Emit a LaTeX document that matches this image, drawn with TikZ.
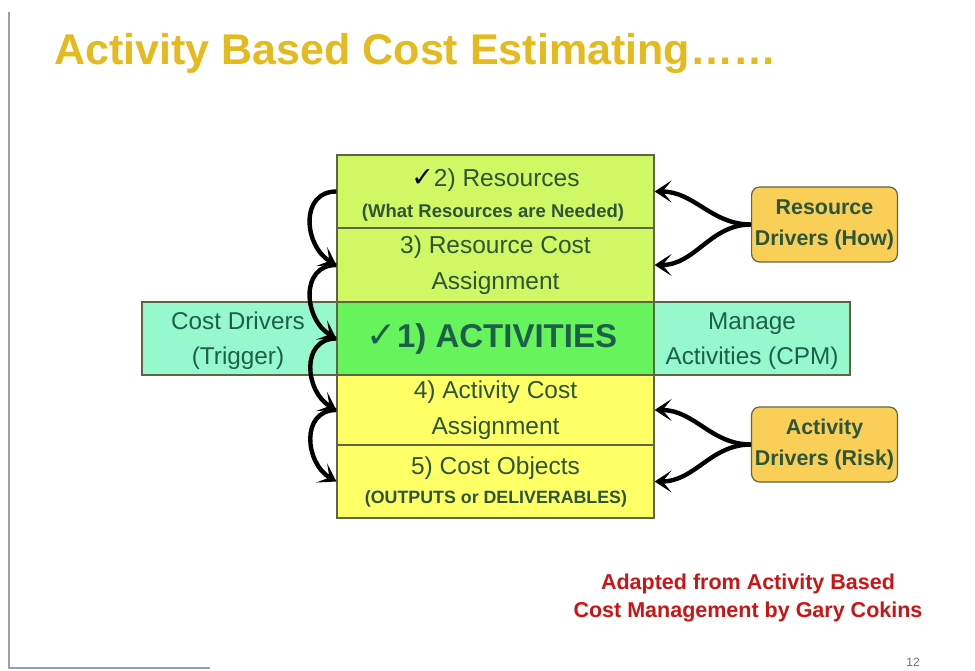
\documentclass[tikz,border=0pt]{standalone}
\usepackage{fontspec}
\setmainfont{Liberation Sans}
\newfontfamily\checkfont{DejaVu Sans}
\usetikzlibrary{arrows.meta}

\definecolor{titlegold}{RGB}{228,186,30}
\definecolor{limebox}{RGB}{208,248,100}
\definecolor{actbox}{RGB}{102,243,92}
\definecolor{bandfill}{RGB}{150,248,205}
\definecolor{yelbox}{RGB}{255,255,102}
\definecolor{drvfill}{RGB}{250,207,88}
\definecolor{edge}{RGB}{95,100,70}
\definecolor{boxtext}{RGB}{45,85,55}
\definecolor{bandtext}{RGB}{30,95,75}
\definecolor{credit}{RGB}{205,20,20}

\tikzset{
  colbox/.style={draw=edge, line width=1.2pt, minimum width=317pt, text=boxtext, align=center,
    font=\fontsize{24.5}{36}\selectfont},
  drvbox/.style={draw=edge, line width=1.2pt, fill=drvfill, rounded corners=8pt, minimum width=145pt,
    minimum height=75pt, text=boxtext, align=center, font=\bfseries\fontsize{21.4}{31}\selectfont},
  bandtxt/.style={text=bandtext, align=center, font=\fontsize{24.3}{35}\selectfont},
  arr/.style={line width=4.4pt, -{Stealth[length=17pt,width=22pt,inset=9pt]}}
}

\begin{document}
\begin{tikzpicture}[x=1pt,y=-1pt]
	\useasboundingbox (0,0) rectangle (975,671);
	\fill [white] (0,0) rectangle (975,671);
	% slide edge
	\draw [color={rgb,255:red,150; green,160; blue,180}, line width=1.5pt] (9,12) -- (9,668) -- (210,668);
	\node [anchor=west, text=titlegold, font=\bfseries\fontsize{43}{46}\selectfont] (title) at (51,53) {Activity Based Cost Estimating……};

	% cost driver band
	\node [draw=edge, line width=1.2pt, fill=bandfill, minimum width=708pt, minimum height=73pt] (band) at (496,338.5) {};
	\node [bandtxt] (cdrv) at (238,341) {Cost Drivers\\(Trigger)};
	\node [bandtxt] (mng) at (752,341) {Manage\\Activities (CPM)};

	% the column
	\node [colbox, fill=limebox, minimum height=73pt] (res) at (495.5,191.5) {};
	\node [colbox, fill=limebox, minimum height=74pt] (rca) at (495.5,265) {3) Resource Cost\\Assignment};
	\node [colbox, fill=actbox, minimum height=73pt] (act) at (495.5,338.5) {};
	\node [colbox, fill=yelbox, minimum height=70pt] (aca) at (495.5,410) {4) Activity Cost\\Assignment};
	\node [colbox, fill=yelbox, minimum height=73pt] (obj) at (495.5,481.5) {};
	\node [text=black] (res-t) at (495.5,180) {{\checkfont\fontsize{27}{30}\selectfont ✓}\color{boxtext}\fontsize{24.5}{30}\selectfont 2) Resources};
	\node [text=boxtext, font=\bfseries\fontsize{18.5}{22}\selectfont] (res-s) at (493,213) {(What Resources are Needed)};
	\node [text=bandtext] (act-t) at (492,339) {{\checkfont\fontsize{36}{38}\selectfont ✓}\bfseries\fontsize{33}{36}\selectfont 1) ACTIVITIES};
	\node [text=boxtext, font=\fontsize{24.5}{30}\selectfont] (obj-t) at (495.5,468) {5) Cost Objects};
	\node [text=boxtext, font=\bfseries\fontsize{17.8}{22}\selectfont] (obj-s) at (496,499) {(OUTPUTS or DELIVERABLES)};

	% drivers
	\node [drvbox] (rdrv) at (824.5,224.5) {Resource\\Drivers (How)};
	\node [drvbox] (adrv) at (824.5,444.5) {Activity\\Drivers (Risk)};

	% left chain
	\draw [arr] (res.west) to[out=180, in=150, looseness=1.3] (rca.west);
	\draw [arr] (rca.west) to[out=180, in=150, looseness=1.3] (act.west);
	\draw [arr] (act.west) to[out=180, in=150, looseness=1.3] (aca.west);
	\draw [arr] (aca.west) to[out=180, in=150, looseness=1.3] (obj.west);

	% right forks
	\draw [arr] (rdrv.west) to[out=180, in=0] (res.east);
	\draw [arr] (rdrv.west) to[out=180, in=0] (rca.east);
	\draw [arr] (adrv.west) to[out=180, in=0] (aca.east);
	\draw [arr] (adrv.west) to[out=180, in=0] (obj.east);

	\node [text=credit, align=center, font=\bfseries\fontsize{21.5}{28}\selectfont] (src) at (748,598) {Adapted from Activity Based\\Cost Management by Gary Cokins};
	\node [color={rgb,255:red,110; green,110; blue,110}, font=\fontsize{12}{14}\selectfont] (pg) at (913,662) {12};
\end{tikzpicture}
\end{document}
